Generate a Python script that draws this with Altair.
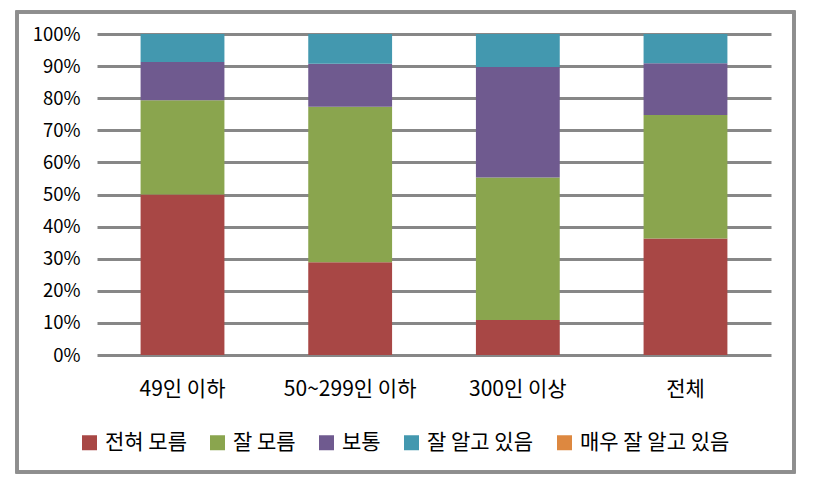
import altair as alt
import pandas as pd

categories = ["49인 이하", "50~299인 이하", "300인 이상", "전체"]
series = ["전혀 모름", "잘 모름", "보통", "잘 알고 있음", "매우 잘 알고 있음"]
colors = ["#A84745", "#8AA54E", "#6F5A8F", "#4398AF", "#DD8840"]

v_none = [50.0, 28.9, 10.9, 36.3]     # 전혀 모름
v_little = [29.4, 48.4, 44.4, 38.5]   # 잘 모름
v_mid = [11.9, 13.4, 34.4, 16.1]      # 보통
v_well = [8.7, 9.3, 10.3, 9.1]        # 잘 알고 있음
v_very = [0.0, 0.0, 0.0, 0.0]         # 매우 잘 알고 있음
y_ticks = [0, 0.1, 0.2, 0.3, 0.4, 0.5, 0.6, 0.7, 0.8, 0.9, 1.0]

rows = []
for si, (s, vals) in enumerate(zip(series, [v_none, v_little, v_mid, v_well, v_very])):
    for c, v in zip(categories, vals):
        rows.append({"category": c, "series": s, "order": si, "value": v / 100.0})
df = pd.DataFrame(rows)

FONT = "Noto Sans CJK KR"
W, H = 674, 321

bars = alt.Chart(df).mark_bar().encode(
    x=alt.X("category:N", sort=categories,
            scale=alt.Scale(paddingInner=0.5, paddingOuter=0.26),
            axis=alt.Axis(title=None, labelAngle=0, ticks=False, domain=False,
                          labelFont=FONT, labelFontSize=21, labelColor="#000000",
                          labelPadding=23)),
    y=alt.Y("value:Q", stack="zero",
            scale=alt.Scale(domain=[0, 1], nice=False),
            axis=alt.Axis(title=None, values=y_ticks, format=".0%", ticks=False,
                          domain=False, labelFont=FONT, labelFontSize=18.5,
                          labelColor="#000000", labelPadding=17,
                          grid=True, gridColor="#878787", gridWidth=3.2)),
    color=alt.Color("series:N", sort=series,
                    scale=alt.Scale(domain=series, range=colors),
                    legend=alt.Legend(title=None, orient="none", direction="horizontal",
                                      legendX=-18, legendY=398,
                                      symbolType="square", symbolSize=225,
                                      symbolStrokeWidth=0, labelFont=FONT,
                                      labelFontSize=21, labelColor="#000000",
                                      labelOffset=5, columnPadding=20)),
    order=alt.Order("order:Q", sort="ascending"),
)

border = alt.Chart(df).mark_rect(fill=None, stroke="#8E8E8E", strokeWidth=2.5).encode(
    x=alt.value(-80), x2=alt.value(697), y=alt.value(-22), y2=alt.value(438)
)

chart = alt.layer(border, bars).properties(
    width=W, height=H,
    autosize=alt.AutoSizeParams(type="none"),
    padding={"left": 97, "top": 34, "right": 58, "bottom": 124},
    background="#FFFFFF",
).configure_view(stroke=None)

chart.save("out.html", embed_options={"renderer": "svg", "actions": False})
